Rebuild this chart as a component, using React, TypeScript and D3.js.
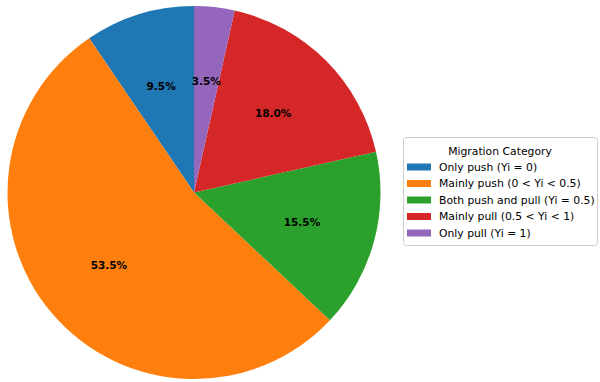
import React from "react";
import * as d3 from "d3";

const categories = [
  "Only push (Yi = 0)",
  "Mainly push (0 < Yi < 0.5)",
  "Both push and pull (Yi = 0.5)",
  "Mainly pull (0.5 < Yi < 1)",
  "Only pull (Yi = 1)",
];
const values = [9.5, 53.5, 15.5, 18.0, 3.5];
const colors = ["#1f77b4", "#ff7f0e", "#2ca02c", "#d62728", "#9467bd"];
const legendTitle = "Migration Category";

export default function App() {
  const W = 600, H = 382;
  const cx = 194, cy = 192.5, r = 186.5;
  const total = d3.sum(values);
  const pie = d3
    .pie<number>()
    .sort(null)
    .startAngle(0)
    .endAngle(-2 * Math.PI)
    .value((d) => d);
  const arcs = pie(values);
  const arc = d3.arc<d3.PieArcDatum<number>>().innerRadius(0).outerRadius(r);
  const labelArc = d3
    .arc<d3.PieArcDatum<number>>()
    .innerRadius(r * 0.6)
    .outerRadius(r * 0.6);

  const lx = 403, ly = 137, lw = 194, lh = 108;
  const rowY = d3.scaleLinear().domain([0, 4]).range([167, 233]);

  return (
    <svg width={W} height={H} style={{ position: "absolute", left: 0, top: 0 }} fontFamily="DejaVu Sans">
      <rect width={W} height={H} fill="#fff" />
      <g transform={`translate(${cx},${cy})`}>
        {arcs.map((a, i) => (
          <path key={i} d={arc(a) || ""} fill={colors[i]} />
        ))}
        {arcs.map((a, i) => {
          const [x, y] = labelArc.centroid(a);
          return (
            <text
              key={"t" + i}
              x={x}
              y={y}
              textAnchor="middle"
              dominantBaseline="central"
              fontSize={10.5}
              fontWeight="bold"
              fill="#000"
            >
              {((values[i] / total) * 100).toFixed(1)}%
            </text>
          );
        })}
      </g>
      <g>
        <rect x={lx + 0.5} y={ly + 0.5} width={lw} height={lh} rx={3} fill="#fff" stroke="#cccccc" strokeWidth={1} />
        <text x={lx + lw / 2} y={151} textAnchor="middle" dominantBaseline="central" fontSize={10.8} fill="#000">
          {legendTitle}
        </text>
        {categories.map((c, i) => (
          <g key={c}>
            <rect x={407} y={rowY(i) - 3.5} width={24} height={7} fill={colors[i]} />
            <text x={439} y={rowY(i)} dominantBaseline="central" fontSize={10.8} fill="#000">
              {c}
            </text>
          </g>
        ))}
      </g>
    </svg>
  );
}
